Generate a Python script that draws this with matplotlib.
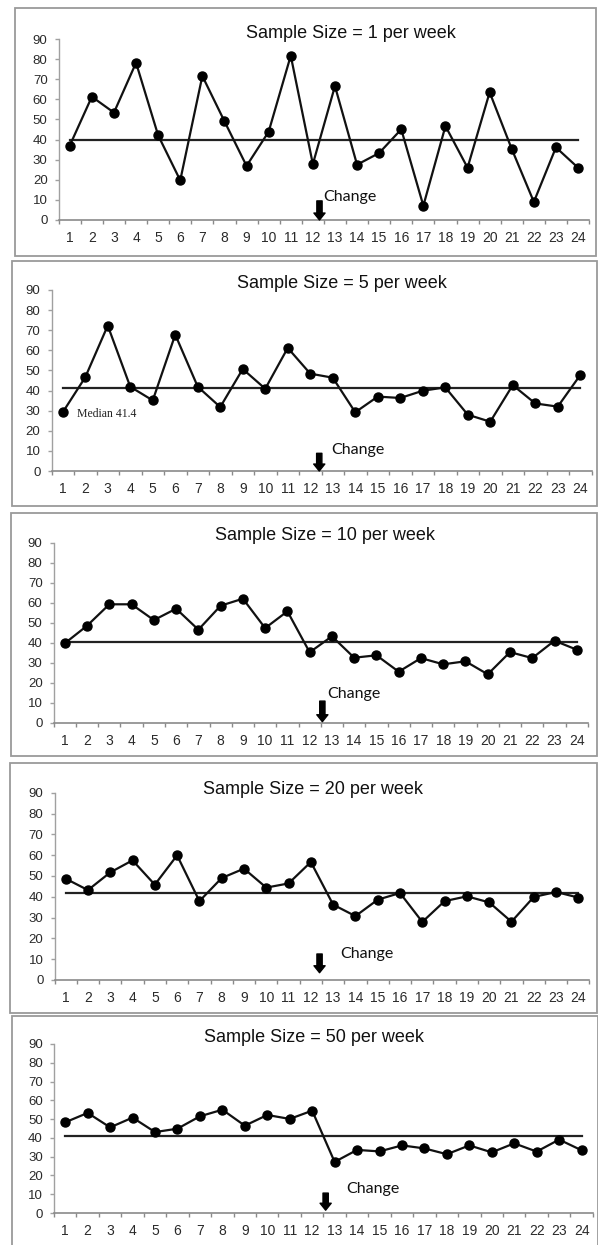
import matplotlib
matplotlib.use("Agg")
import matplotlib.pyplot as plt
from matplotlib.patches import Rectangle

W, H = 598, 1245

weeks = list(range(1, 25))
titles = ["Sample Size = 1 per week", "Sample Size = 5 per week",
          "Sample Size = 10 per week", "Sample Size = 20 per week",
          "Sample Size = 50 per week"]
ss1 = [37.0, 61.3, 53.4, 78.2, 42.1, 19.7, 71.6, 49.1, 26.9, 43.9, 81.7, 27.8,
       66.6, 27.5, 33.3, 45.1, 7.1, 46.7, 26.0, 63.5, 35.3, 9.0, 36.1, 26.0]
ss5 = [29.2, 46.6, 72.3, 41.9, 35.1, 67.8, 41.9, 31.8, 50.7, 40.9, 61.2, 48.4,
       46.4, 29.2, 37.0, 36.3, 39.9, 41.6, 28.0, 24.5, 42.7, 33.6, 32.0, 47.7]
ss10 = [39.7, 48.5, 59.2, 59.2, 51.3, 57.0, 46.5, 58.5, 62.0, 47.3, 55.7, 35.2,
        43.2, 32.5, 33.7, 25.5, 32.3, 29.2, 30.7, 24.2, 35.3, 32.3, 41.0, 36.5]
ss20 = [48.7, 43.2, 51.7, 57.5, 45.8, 59.9, 37.9, 49.0, 53.5, 44.4, 46.4, 56.7,
        36.2, 30.7, 38.6, 41.8, 27.9, 37.9, 40.2, 37.3, 28.0, 39.9, 42.3, 39.6]
ss50 = [48.3, 53.3, 45.6, 50.8, 43.1, 44.9, 51.5, 55.0, 46.5, 52.2, 50.1, 54.5,
        27.2, 33.6, 32.8, 36.0, 34.4, 31.3, 36.0, 32.3, 37.1, 32.7, 39.1, 33.4]
series = [ss1, ss5, ss10, ss20, ss50]
medians = [39.8, 41.4, 40.2, 42.0, 41.0]
y_ticks = [0, 10, 20, 30, 40, 50, 60, 70, 80, 90]
change_label = "Change"
median_label = "Median 41.4"

# layout (pixels): axes left, right, y of 0, y of 90
axes_px = [(58.7, 589.1, 220, 39),
           (51.5, 591.5, 471, 290),
           (53.7, 587.9, 722.7, 542.7),
           (54.5, 589.5, 980, 792.7),
           (54.0, 592.8, 1213, 1044)]
frames_px = [(14.7, 8, 596, 256),
             (12, 260.7, 597, 506),
             (10.7, 512.7, 597, 756),
             (10, 763, 597, 1013),
             (11.7, 1016, 597.5, 1260)]
title_px = [(351, 33), (342, 283), (325, 536), (313, 790), (314.5, 1037)]
arrow_x = [12.3, 12.4, 12.57, 12.39, 12.6]
arrow_top = [9.5, 8.8, 10.8, 12.5, 10.6]
arrow_bot = [0.0, 0.0, 0.5, 3.5, 1.5]
text_pos = [(12.45, 11.3), (12.95, 10.4), (12.8, 14.2), (13.3, 12.5), (13.5, 12.8)]

fig = plt.figure(figsize=(W / 100, H / 100), dpi=100)
fig.patch.set_facecolor("white")

for i in range(5):
    fx0, fy0, fx1, fy1 = frames_px[i]
    fig.patches.append(Rectangle((fx0 / W, 1 - fy1 / H), (fx1 - fx0) / W, (fy1 - fy0) / H,
                                 transform=fig.transFigure, fill=False,
                                 edgecolor="#9a9a9a", linewidth=1.3))
    l, r, y0, y90 = axes_px[i]
    ax = fig.add_axes([l / W, 1 - y0 / H, (r - l) / W, (y0 - y90) / H])
    ax.set_facecolor("none")
    ax.set_xlim(0.5, 24.5)
    ax.set_ylim(0, 90)
    for s in ["top", "right"]:
        ax.spines[s].set_visible(False)
    ax.spines["left"].set_color("#a0a0a0")
    ax.spines["bottom"].set_color("#8a8a8a")
    ax.spines["left"].set_linewidth(1.0)
    ax.spines["bottom"].set_linewidth(1.2)
    ax.set_yticks(y_ticks)
    ax.set_yticklabels([str(v) for v in y_ticks], family="Liberation Sans")
    ax.set_xticks(weeks)
    ax.set_xticklabels([str(w) for w in weeks], family="Liberation Sans")
    ax.set_xticks([w + 0.5 for w in [0] + weeks], minor=True)
    ax.tick_params(axis="x", which="major", length=0, pad=8, labelsize=10, labelcolor="#2a2a2a")
    ax.tick_params(axis="x", which="minor", length=3, width=1, color="#8a8a8a", direction="out")
    ax.tick_params(axis="y", length=3, width=1, color="#a0a0a0", pad=5, labelsize=9.5,
                   labelcolor="#2a2a2a")
    ax.axhline(medians[i], xmin=(1 - 0.5) / 24, xmax=(24 - 0.5) / 24,
               color="#222222", linewidth=1.6, zorder=2)
    ax.plot(weeks, series[i], color="#111111", linewidth=1.6, marker="o",
            markersize=6.5, markerfacecolor="#000000", markeredgecolor="#000000", zorder=3)
    ax.annotate("", xy=(arrow_x[i], arrow_bot[i]), xytext=(arrow_x[i], arrow_top[i]),
                arrowprops=dict(arrowstyle="simple,head_length=0.5,head_width=0.8,tail_width=0.38",
                                color="black", shrinkA=0, shrinkB=0), annotation_clip=False)
    ax.text(text_pos[i][0], text_pos[i][1], change_label, ha="left", va="center",
            fontsize=11.5, family="Lato", color="#111111")
    if i == 1:
        ax.text(1.62, 28.3, median_label, ha="left", va="center", fontsize=8.5,
                family="Liberation Serif", color="#222222")
    tx, ty = title_px[i]
    fig.text(tx / W, 1 - ty / H, titles[i], ha="center", va="center", fontsize=13,
             family="Liberation Sans", color="#111111")

fig.savefig("out.png", dpi=100)
